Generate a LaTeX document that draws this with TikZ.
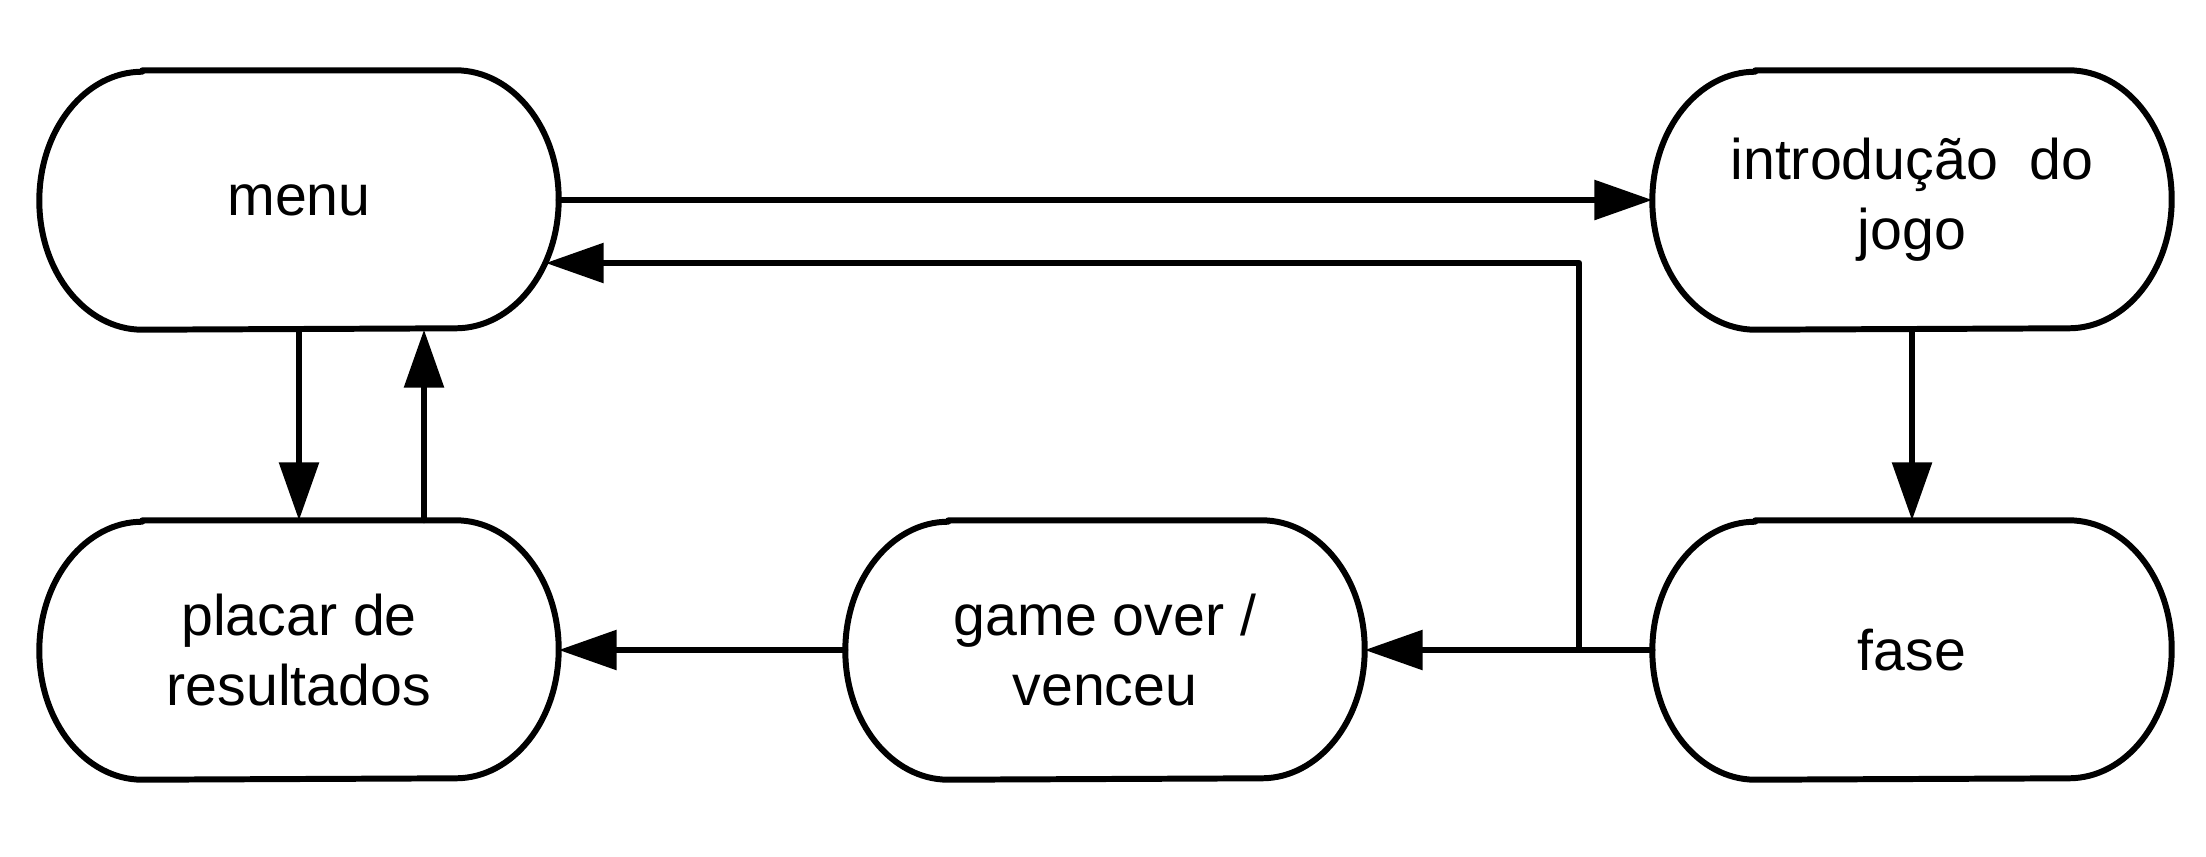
\documentclass[tikz,border=0pt]{standalone}
\usepackage{fontspec}
\setmainfont{Liberation Sans}
\usetikzlibrary{arrows.meta,calc}
\begin{document}
\begin{tikzpicture}[line cap=round,line join=round,
    estado/.style={minimum width=5.18cm, minimum height=2.58cm, inner sep=0pt,
      align=center, font=\fontsize{16.3}{19.9}\selectfont},
    seta/.style={line width=1.7pt, -{Triangle[length=0.58cm,width=0.39cm]}}]
  \useasboundingbox (0,0) rectangle (22.06,8.56);
  \node[estado] (menu)   at (2.99,6.56)  {menu};
  \node[estado] (intro)  at (19.12,6.56) {introdução~ do\\jogo};
  \node[estado] (placar) at (2.99,2.06)  {placar de\\resultados};
  \node[estado] (fim)    at (11.05,2.06) {game over /\\venceu};
  \node[estado] (fase)   at (19.12,2.06) {fase};
  \foreach \n in {menu,intro,placar,fim,fase}
    \draw[line width=1.7pt] ([xshift=1.03cm]\n.north west) -- ([xshift=-1.03cm]\n.north east)
      arc[start angle=90, end angle=-90, x radius=1.03cm, y radius=1.29cm]
      -- ([xshift=1.03cm]\n.south west)
      arc[start angle=270, end angle=90, x radius=1.03cm, y radius=1.29cm] -- cycle;
  \draw[seta] (menu.east) -- (intro.west);
  \draw[seta] (menu.south) -- (placar.north);
  \draw[seta] ([xshift=1.25cm]placar.north) -- ([xshift=1.25cm]menu.south);
  \draw[seta] (intro.south) -- (fase.north);
  \draw[seta] (fim.west) -- (placar.east);
  \draw[seta] (fase.west) -- (fim.east);
  \draw[seta] (fase.west) -- ++(-0.73,0) |- ([xshift=-0.13cm,yshift=-0.63cm]menu.east);
\end{tikzpicture}
\end{document}
